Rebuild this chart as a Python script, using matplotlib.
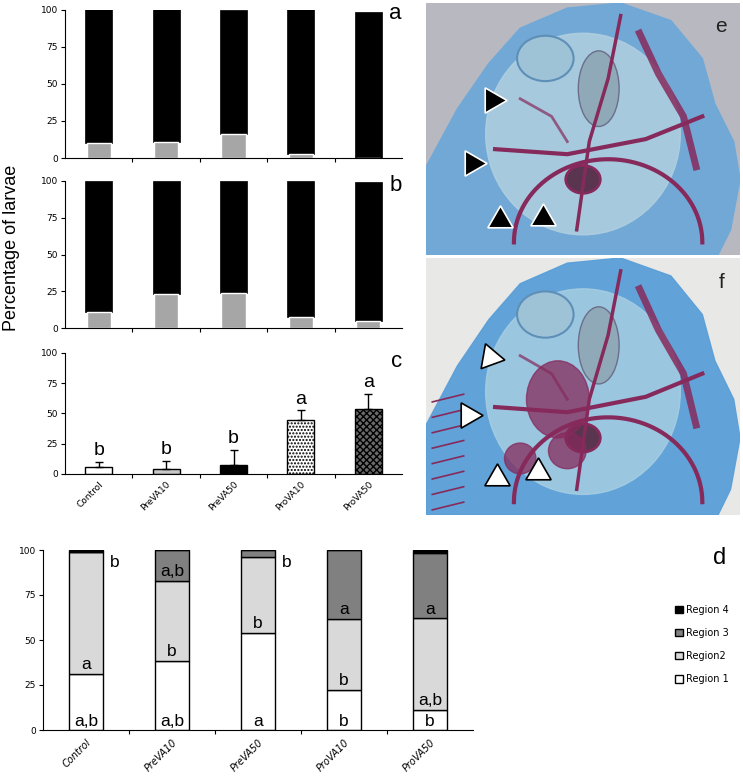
''' Percentage of larvae per treatment, panels a-d, with two sketched photos e and f. '''
import numpy as np
import matplotlib
import matplotlib.pyplot as plt
from matplotlib.patches import Patch, Polygon, Ellipse, Circle, Rectangle

matplotlib.use('Agg')

# treatments
groups = ['Control', 'PreVA10', 'PreVA50', 'ProVA10', 'ProVA50']

# panel a: grey share and total height of the stacked bar
a_grey = [10, 11, 16, 3, 0]
a_total = [100, 100, 100, 100, 98.5]

# panel b
b_grey = [11, 23, 24, 7.5, 4.5]
b_total = [100, 100, 100, 100, 99]

# panel c: means, upper error, letters
c_mean = [5.5, 4, 7.5, 45, 54]
c_err = [4.5, 7, 12.5, 7.5, 12]
c_letters = ['b', 'b', 'b', 'a', 'a']

# panel d: regions 1-4
d_r1 = [31, 38.5, 54, 22.5, 11]
d_r2 = [68, 44.5, 42, 39, 51]
d_r3 = [0, 17, 4, 38.5, 36.5]
d_r4 = [1, 0, 0, 0, 1.5]
d_lab_r1 = ['a,b', 'a,b', 'a', 'b', 'b']
d_lab_r2 = ['a', 'b', 'b', 'b', 'a,b']
d_lab_r3 = ['', 'a,b', '', 'a', 'a']
d_lab_side = ['b', '', 'b', '', '']

W, H = 743, 780
fig = plt.figure(figsize=(W / 100, H / 100), dpi=100)
plt.rcParams['font.family'] = ['DejaVu Sans']


def box(x0, y0, x1, y1):
    # pixel box (top-left origin) to figure fraction rect
    return [x0 / W, 1 - y1 / H, (x1 - x0) / W, (y1 - y0) / H]


def style_axis(ax, n, tick_size=6.5):
    ax.set_xlim(-0.5, n - 0.5)
    ax.set_ylim(0, 100)
    ax.set_yticks([0, 25, 50, 75, 100])
    ax.tick_params(axis='y', labelsize=tick_size, length=3, width=0.8, pad=2)
    ax.set_xticks(np.arange(n))
    ax.set_xticks(np.arange(n - 1) + 0.5, minor=True)
    ax.tick_params(axis='x', which='major', length=0)
    ax.tick_params(axis='x', which='minor', length=3, width=0.8, direction='out')
    for s in ['top', 'right']:
        ax.spines[s].set_visible(False)
    ax.spines['left'].set_linewidth(0.8)
    ax.spines['bottom'].set_linewidth(0.8)
    ax.spines['left'].set_bounds(0, 100)


x = np.arange(len(groups))
bw = 0.4

# panels a and b
for rect, grey, total, letter in [(box(65, 9.5, 402, 158), a_grey, a_total, 'a'),
                                  (box(65, 181, 402, 328), b_grey, b_total, 'b')]:
    ax = fig.add_axes(rect)
    style_axis(ax, len(groups))
    grey = np.array(grey, dtype=float)
    total = np.array(total, dtype=float)
    ax.bar(x, total - grey, bw, bottom=grey, color='black', edgecolor='black', lw=0.5)
    ax.bar(x, grey, bw * 0.9, color='#a6a6a6', edgecolor='white', lw=1)
    ax.set_xticklabels([])
    ax.text(1.0, 0.97, letter, transform=ax.transAxes, fontsize=16,
            family='Liberation Sans', ha='right', va='center')

# panel c
ax = fig.add_axes(box(65, 353, 402, 474))
style_axis(ax, len(groups))
c_faces = ['white', '#c8c8c8', 'black', 'white', '#6a6a6a']
c_hatch = [None, None, None, '.....', 'xxxxx']
for i in range(len(groups)):
    ax.bar(x[i], c_mean[i], bw, color=c_faces[i], edgecolor='black', lw=1,
           hatch=c_hatch[i])
ax.errorbar(x, c_mean, yerr=[np.zeros(len(groups)), c_err], fmt='none',
            ecolor='black', elinewidth=1, capsize=3, capthick=1)
for i, lt in enumerate(c_letters):
    ax.annotate(lt, (x[i], c_mean[i] + c_err[i]), xytext=(0, 2),
                textcoords='offset points', ha='center', va='bottom',
                fontsize=14, family='Liberation Sans')
ax.set_xticklabels(groups, rotation=45, ha='right', rotation_mode='anchor',
                   fontsize=6.5)
ax.tick_params(axis='x', which='major', pad=4)
ax.text(1.0, 0.93, 'c', transform=ax.transAxes, fontsize=16,
        family='Liberation Sans', ha='right', va='center')

fig.text(12 / W, 1 - 248 / H, 'Percentage of larvae', rotation=90, fontsize=13,
         family='Liberation Sans', ha='center', va='center')

# panel d
ax = fig.add_axes(box(43, 550, 473, 730))
style_axis(ax, len(groups), tick_size=6.5)
r1 = np.array(d_r1)
r2 = np.array(d_r2)
r3 = np.array(d_r3)
r4 = np.array(d_r4)
ax.bar(x, r1, bw, color='white', edgecolor='black', lw=1)
ax.bar(x, r2, bw, bottom=r1, color='#d9d9d9', edgecolor='black', lw=1)
ax.bar(x, r3, bw, bottom=r1 + r2, color='#808080', edgecolor='black', lw=1)
ax.bar(x, r4, bw, bottom=r1 + r2 + r3, color='black', edgecolor='black', lw=1)
for i in range(len(groups)):
    ax.text(x[i], 0.5, d_lab_r1[i], ha='center', va='bottom', fontsize=12.5,
            family='Liberation Sans')
    ax.text(x[i], r1[i] + 1, d_lab_r2[i], ha='center', va='bottom', fontsize=12.5,
            family='Liberation Sans')
    ax.text(x[i], r1[i] + r2[i] + 1, d_lab_r3[i], ha='center', va='bottom',
            fontsize=12.5, family='Liberation Sans')
    ax.text(x[i] + bw / 2 + 0.08, 93, d_lab_side[i], ha='left', va='center',
            fontsize=12.5, family='Liberation Sans')
ax.set_xticklabels(groups, rotation=45, ha='right', rotation_mode='anchor',
                   fontsize=7, style='italic')
ax.tick_params(axis='x', which='major', pad=5)
fig.text(720 / W, 1 - 558 / H, 'd', fontsize=17, family='Liberation Sans',
         ha='center', va='center')

handles = [Patch(facecolor='black', edgecolor='black', label='Region 4'),
           Patch(facecolor='#808080', edgecolor='black', label='Region 3'),
           Patch(facecolor='#d9d9d9', edgecolor='black', label='Region2'),
           Patch(facecolor='white', edgecolor='black', label='Region 1')]
fig.legend(handles=handles, loc='upper left', bbox_to_anchor=(670 / W, 1 - 600 / H),
           frameon=False, fontsize=7, handlelength=0.8, handleheight=0.8,
           handletextpad=0.3, labelspacing=1.35, borderpad=0)


# photos e and f, only sketched
def draw_photo(rect, bg, head, inner, tri_face, tri_edge, tris, letter, dense):
    ax = fig.add_axes(rect)
    ax.set_xlim(0, 1)
    ax.set_ylim(0, 1)
    ax.axis('off')
    ax.add_patch(Rectangle((0, 0), 1, 1, color=bg))
    outline = [(0, 0), (0, 0.35), (0.1, 0.58), (0.2, 0.76), (0.3, 0.9),
               (0.45, 0.98), (0.62, 1.0), (0.78, 0.93), (0.88, 0.78),
               (0.92, 0.6), (0.98, 0.45), (1.0, 0.3), (0.97, 0.1), (0.93, 0)]
    ax.add_patch(Polygon(outline, closed=True, color=head, alpha=0.95))
    ax.add_patch(Ellipse((0.5, 0.48), 0.62, 0.8, color=inner, alpha=0.8))
    ax.add_patch(Circle((0.38, 0.78), 0.09, fc='#9fc3d6', ec='#5d8fb8', lw=1.5))
    ax.add_patch(Ellipse((0.55, 0.66), 0.13, 0.3, fc='#8fa9b8', ec='#6b6f8a', lw=1))
    purple = '#862a5c'
    t = np.linspace(0, np.pi, 60)
    ax.plot(0.58 + 0.3 * np.cos(t), 0.05 + 0.33 * np.sin(t), color=purple, lw=3)
    ax.plot([0.22, 0.45, 0.7, 0.88], [0.42, 0.4, 0.46, 0.55], color=purple, lw=3)
    ax.plot([0.62, 0.58, 0.52, 0.48], [0.95, 0.7, 0.45, 0.1], color=purple, lw=2.5)
    ax.plot([0.68, 0.74, 0.82, 0.86], [0.88, 0.72, 0.55, 0.35], color=purple, lw=5,
            alpha=0.85)
    ax.plot([0.3, 0.4, 0.45], [0.62, 0.55, 0.45], color=purple, lw=2, alpha=0.7)
    ax.add_patch(Circle((0.5, 0.3), 0.055, fc='#5a3550', ec=purple, lw=2))
    if dense:
        ax.add_patch(Ellipse((0.42, 0.45), 0.2, 0.3, color=purple, alpha=0.75))
        ax.add_patch(Ellipse((0.3, 0.22), 0.1, 0.12, color=purple, alpha=0.75))
        ax.add_patch(Ellipse((0.45, 0.25), 0.12, 0.14, color=purple, alpha=0.75))
        for k in range(8):
            ax.plot([0.02, 0.12], [0.02 + 0.06 * k, 0.05 + 0.06 * k], color=purple,
                    lw=1.2)
    for (tx, ty, ang) in tris:
        ax.plot(tx, ty, marker=(3, 0, ang), markersize=21, mfc=tri_face,
                mec=tri_edge, mew=1.2, ls='none')
    ax.text(0.94, 0.905, letter, fontsize=15, family='Liberation Sans', ha='center',
            va='center', color='#222222')


tris_e = [(0.21, 0.615, -90), (0.146, 0.365, -90), (0.235, 0.14, 0), (0.372, 0.147, 0)]
tris_f = [(0.204, 0.615, -100), (0.134, 0.389, -90), (0.226, 0.144, 0), (0.357, 0.167, 0)]
draw_photo(box(426, 3, 740, 255), '#b8b9c0', '#6fa8d8', '#b4d2e0', 'black', 'white',
           tris_e, 'e', False)
draw_photo(box(426, 258, 740, 515), '#e8e8e6', '#5a9fd8', '#a9d0e2', 'white', 'black',
           tris_f, 'f', True)

fig.savefig('out.png', dpi=100)
